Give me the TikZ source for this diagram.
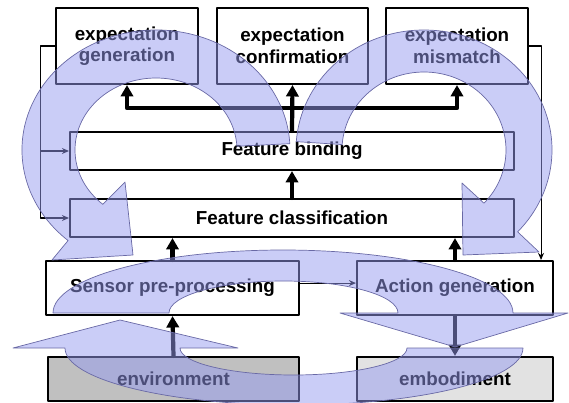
\documentclass[tikz,border=0pt]{standalone}
\usepackage{fontspec}
\setsansfont{Liberation Sans}
\usetikzlibrary{arrows.meta}
\definecolor{lav}{RGB}{150,155,240}
\definecolor{lavline}{RGB}{105,105,165}
\definecolor{envgray}{RGB}{192,192,192}
\definecolor{embgray}{RGB}{226,226,226}
\tikzset{
  blockbox/.style={draw=black,line width=1.2pt,fill=white,inner sep=0pt,align=center,
    font=\sffamily\bfseries\fontsize{10.7}{12.3}\selectfont},
  bigarr/.style={-{Triangle[width=7pt,length=6.5pt]},line width=2.4pt},
  thinarr/.style={-{Stealth[width=3.4pt,length=4pt]},line width=0.6pt},
  flowband/.style={fill=lav,fill opacity=0.5,draw=lavline,line width=0.4pt}
}

\begin{document}
\begin{tikzpicture}[line cap=round,line join=round,x=0.02cm,y=-0.02cm]
\useasboundingbox (0,0) rectangle (569,403);
% boxes
\node[blockbox,minimum width=2.84cm,minimum height=1.52cm] (gen) at (127,46) {expectation\\generation};
\node[blockbox,minimum width=3.02cm,minimum height=1.52cm] (conf) at (292.5,46) {expectation\\confirmation};
\node[blockbox,minimum width=2.84cm,minimum height=1.52cm] (mis) at (457,46) {expectation\\mismatch};
\node[blockbox,minimum width=8.88cm,minimum height=0.76cm] (bind) at (292,151) {Feature binding};
\node[blockbox,minimum width=8.88cm,minimum height=0.76cm] (cls) at (292,218) {Feature classification};
\node[blockbox,minimum width=5.06cm,minimum height=1.08cm] (sen) at (172.5,288) {Sensor pre-processing};
\node[blockbox,minimum width=3.92cm,minimum height=1.08cm] (act) at (455,288) {Action generation};
\node[blockbox,fill=envgray,minimum width=5.02cm,minimum height=0.88cm] (env) at (173.5,379) {environment};
\node[blockbox,fill=embgray,minimum width=3.92cm,minimum height=0.88cm] (emb) at (455,379) {embodiment};
% thick arrows
\coordinate (split) at (292,108);
\draw[bigarr] (bind.north) -- (conf.south);
\draw[bigarr] (split) -| (gen.south);
\draw[bigarr] (split) -| (mis.south);
\draw[bigarr] (cls.north) -- (bind.south);
\draw[bigarr] (sen.north) -- (sen.north |- cls.south);
\draw[bigarr] (act.north) -- (act.north |- cls.south);
\draw[bigarr] (env.north) -- (sen.south);
\draw[bigarr] (act.south) -- (emb.north);
% thin arrows
\draw[thinarr] (gen.west) -- ++(-14,0) coordinate (lft) |- (cls.west);
\draw[thinarr] (lft |- bind.west) -- (bind.west);
\draw[thinarr] (mis.east) -- ++(12,0) coordinate (rgt) -- (rgt |- act.north);
\draw[thinarr] ([yshift=2.8pt]sen.east) -- ([yshift=2.8pt]act.west);
% transparent flow arrows
\draw[flowband] (289.8,143.7) arc[start angle=-3,end angle=-229,x radius=134,y radius=120]
  -- (52,260) -- (133,255) -- (125,182) -- (102.86,204.34)
  arc[start angle=-229,end angle=-3,x radius=81,y radius=72] -- cycle;
\draw[flowband] (296.31,141.63) arc[start angle=184,end angle=403,x radius=128,y radius=120]
  -- (539,252) -- (463,255) -- (462,183) -- (483.97,203.2)
  arc[start angle=403,end angle=184,x radius=82,y radius=78] -- cycle;
\draw[flowband] (53,313) arc[start angle=180,end angle=360,x radius=230,y radius=63]
  -- (568,313) -- (455,347) -- (340,313) -- (398,313)
  arc[start angle=0,end angle=-180,x radius=114.5,y radius=32] -- cycle;
\draw[flowband] (65,348) arc[start angle=180,end angle=0,x radius=229,y radius=57]
  -- (407,348) arc[start angle=0,end angle=180,x radius=113.5,y radius=27]
  -- (238,348) -- (120,320) -- (13,348) -- cycle;
\end{tikzpicture}
\end{document}
